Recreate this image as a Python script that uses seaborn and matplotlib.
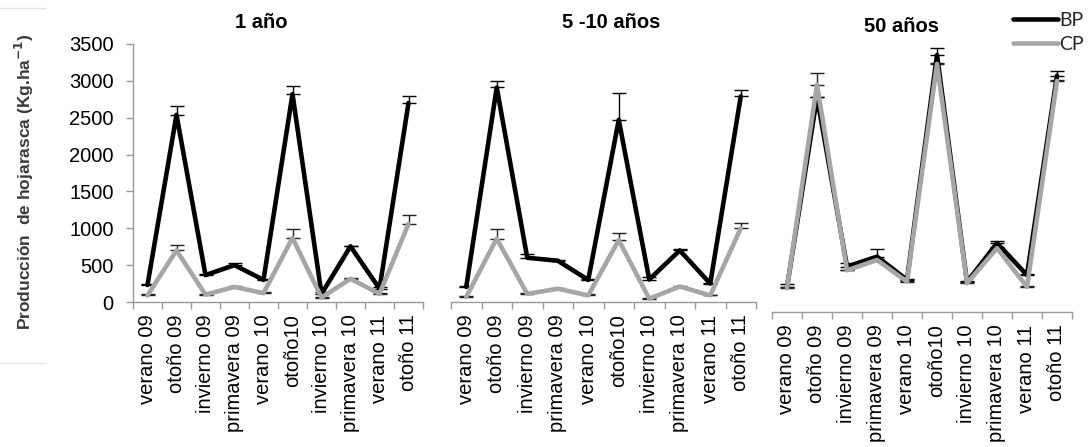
import numpy as np
import pandas as pd
import matplotlib
matplotlib.use("Agg")
import matplotlib.pyplot as plt
from matplotlib.lines import Line2D
from matplotlib.ticker import FixedLocator, NullFormatter
import seaborn as sns

sns.set_theme(style="white")
plt.rcParams["font.family"] = ["Liberation Sans", "DejaVu Sans"]

# Estaciones de muestreo
categorias = ["verano 09", "otoño 09", "invierno 09", "primavera 09", "verano 10",
              "otoño10", "invierno 10", "primavera 10", "verano 11", "otoño 11"]

# 1 año
bp_1 = [230, 2540, 365, 500, 300, 2820, 110, 755, 180, 2700]
bp_1_err = [20, 115, 20, 30, 15, 110, 20, 10, 20, 100]
cp_1 = [90, 700, 100, 205, 120, 870, 60, 315, 110, 1060]
cp_1_err = [20, 80, 5, 10, 15, 125, 10, 15, 10, 125]

# 5 - 10 años
bp_2 = [205, 2910, 600, 560, 300, 2470, 305, 700, 250, 2790]
bp_2_err = [10, 90, 50, 10, 10, 360, 30, 20, 10, 90]
cp_2 = [70, 860, 110, 180, 90, 840, 45, 210, 90, 1000]
cp_2_err = [10, 135, 10, 10, 20, 90, 5, 10, 5, 75]

# 50 años
bp_3 = [200, 2780, 480, 615, 300, 3350, 270, 800, 365, 3070]
bp_3_err = [50, 0, 45, 110, 15, 90, 15, 30, 15, 70]
cp_3 = [190, 2950, 430, 570, 275, 3230, 255, 730, 205, 3000]
cp_3_err = [15, 160, 10, 10, 10, 10, 10, 10, 15, 10]

titulos = ["1 año", "5 -10 años", "50 años"]
y_ticks = [0, 500, 1000, 1500, 2000, 2500, 3000, 3500]

paneles = [(bp_1, bp_1_err, cp_1, cp_1_err),
           (bp_2, bp_2_err, cp_2, cp_2_err),
           (bp_3, bp_3_err, cp_3, cp_3_err)]

W, H = 1088, 447
fig = plt.figure(figsize=(W / 100, H / 100), dpi=100)
fig.patch.set_facecolor("white")


def fig_rect(x0, x1, ytop, ybot):
    return [x0 / W, 1 - ybot / H, (x1 - x0) / W, (ybot - ytop) / H]


rects = [fig_rect(133, 423, 44, 302),
         fig_rect(451, 756, 44, 302),
         fig_rect(772, 1072, 44, 302)]

colores = {"BP": "black", "CP": "#a6a6a6"}
gris_eje = "#9a9a9a"
pos = np.arange(len(categorias))

for i, (rect, (bp, bp_e, cp, cp_e)) in enumerate(zip(rects, paneles)):
    ax = fig.add_axes(rect)
    # el eje x del tercer panel va algo más abajo
    if i == 2:
        ax.spines["bottom"].set_position(("outward", 7.2))

    df = pd.DataFrame({
        "pos": np.concatenate([pos, pos]),
        "valor": bp + cp,
        "serie": ["BP"] * len(bp) + ["CP"] * len(cp),
    })
    ax.errorbar(pos, bp, yerr=[np.zeros(len(bp)), bp_e], fmt="none",
                ecolor="black", elinewidth=1, capsize=5, capthick=1, zorder=1)
    ax.errorbar(pos, cp, yerr=[np.zeros(len(cp)), cp_e], fmt="none",
                ecolor="#222222", elinewidth=1, capsize=5, capthick=1, zorder=1)
    sns.lineplot(data=df, x="pos", y="valor", hue="serie", palette=colores,
                 linewidth=3.3, sort=False, legend=False, ax=ax, zorder=3)

    ax.set_xlim(-0.5, len(categorias) - 0.5)
    ax.set_ylim(0, 3500)
    ax.set_xlabel("")
    ax.set_ylabel("")
    ax.set_facecolor("none")

    ax.set_xticks(pos)
    ax.set_xticklabels(categorias, rotation=90, fontsize=14.5, color="black")
    ax.xaxis.set_minor_locator(FixedLocator(np.arange(-0.5, len(categorias), 1)))
    ax.xaxis.set_minor_formatter(NullFormatter())
    ax.tick_params(axis="x", which="major", length=0, pad=9)
    ax.tick_params(axis="x", which="minor", length=5, width=1, color=gris_eje,
                   direction="out", bottom=True)

    for s in ["top", "right"]:
        ax.spines[s].set_visible(False)
    ax.spines["bottom"].set_color(gris_eje)
    ax.spines["bottom"].set_linewidth(1)

    if i == 0:
        ax.set_yticks(y_ticks)
        ax.set_yticklabels([str(v) for v in y_ticks], fontsize=14.5, color="black")
        ax.tick_params(axis="y", length=5, width=1, color=gris_eje, pad=9,
                       direction="out", left=True)
        ax.spines["left"].set_color(gris_eje)
        ax.spines["left"].set_linewidth(1)
    else:
        ax.spines["left"].set_visible(False)
        ax.set_yticks([])

# Títulos de los paneles
for texto, (xc, yc) in zip(titulos, [(261, 22), (611, 22), (902, 27)]):
    fig.text(xc / W, 1 - yc / H, texto, ha="center", va="center",
             fontsize=14.5, fontweight="bold", color="black")

# Título del eje y
fig.text(24 / W, 1 - 182 / H, "Producción  de hojarasca (Kg.ha$^{\\mathbf{-1}}$)",
         rotation=90, ha="center", va="center", fontsize=12.5,
         fontweight="bold", color="#3a3a3a")
fig.add_artist(Line2D([0, 45 / W], [1 - 8 / H, 1 - 8 / H], color="#e6e6e6", lw=1))
fig.add_artist(Line2D([0, 45 / W], [1 - 363 / H, 1 - 363 / H], color="#e6e6e6", lw=1))

# Leyenda
manejadores = [Line2D([], [], color=colores["BP"], lw=3.3),
               Line2D([], [], color=colores["CP"], lw=3.3)]
fig.legend(manejadores, ["BP", "CP"], loc="upper right",
           bbox_to_anchor=(1.0 + 4 / W, 1.0 - 4 / H), frameon=False,
           handlelength=2.3, handletextpad=0.1, labelspacing=0.35,
           borderaxespad=0, prop={"family": "Lato", "size": 14})

fig.savefig("out.png", dpi=100, facecolor="white")
